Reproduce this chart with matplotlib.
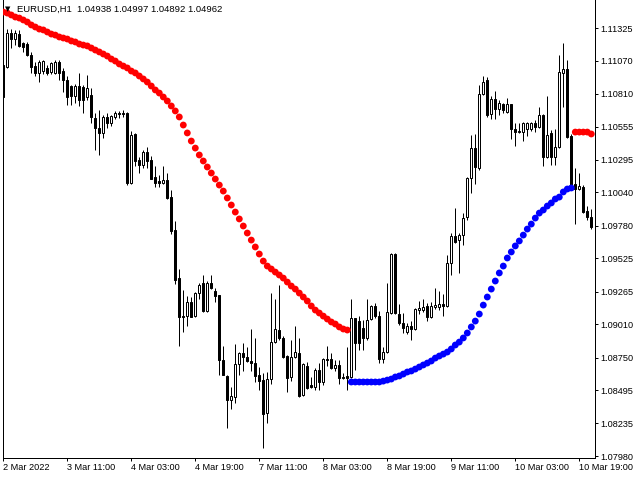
import matplotlib
matplotlib.use("Agg")
import matplotlib.pyplot as plt
import numpy as np
import pandas as pd

plt.rcParams["font.family"] = ["Liberation Sans", "DejaVu Sans"]

# ---------------- data ----------------
symbol = "EURUSD,H1"
header_prices = ["1.04938", "1.04997", "1.04892", "1.04962"]
first_bar_time = "2022-03-02 19:00"

opens = [1.11036, 1.11020, 1.11286, 1.11239, 1.11278, 1.11208, 1.11200, 1.11114, 1.11028, 1.10974,
         1.10989, 1.11013, 1.10981, 1.10974, 1.11059, 1.10989, 1.10919, 1.10872, 1.10794, 1.10872,
         1.10864, 1.10786, 1.10802, 1.10622, 1.10544, 1.10505, 1.10630, 1.10583, 1.10630, 1.10661,
         1.10661, 1.10661, 1.10114, 1.10497, 1.10294, 1.10255, 1.10356, 1.10294, 1.10161, 1.10129,
         1.10114, 1.10137, 1.10004, 1.09747, 1.09371, 1.09074, 1.09074, 1.09184, 1.09074, 1.09254,
         1.09332, 1.09114, 1.09332, 1.09270, 1.09239, 1.08731, 1.08606, 1.08418, 1.08441, 1.08699,
         1.08785, 1.08754, 1.08723, 1.08707, 1.08613, 1.08574, 1.08316, 1.08582, 1.08871, 1.08965,
         1.08903, 1.08762, 1.08598, 1.08754, 1.08785, 1.08457, 1.08684, 1.08535, 1.08520, 1.08652,
         1.08559, 1.08738, 1.08738, 1.08668, 1.08692, 1.08598, 1.08606, 1.08598, 1.09059, 1.09035,
         1.08981, 1.08903, 1.09051, 1.09153, 1.09074, 1.08738, 1.08793, 1.09098, 1.09559, 1.09090,
         1.09020, 1.08949, 1.08996, 1.08973, 1.09121, 1.09121, 1.09153, 1.09067, 1.09145, 1.09145,
         1.09168, 1.09153, 1.09489, 1.09700, 1.09668, 1.09707, 1.09848, 1.10153, 1.10387, 1.10231,
         1.10809, 1.10919, 1.10653, 1.10770, 1.10692, 1.10731, 1.10669, 1.10731, 1.10536, 1.10512,
         1.10512, 1.10536, 1.10536, 1.10583, 1.10551, 1.10645, 1.10317, 1.10505, 1.10317, 1.10395,
         1.10974, 1.11005, 1.10481, 1.10106, 1.10067, 1.10083, 1.09895, 1.09848]
highs = [1.11059, 1.11317, 1.11317, 1.11310, 1.11310, 1.11216, 1.11216, 1.11138, 1.11059, 1.11075,
         1.11075, 1.11036, 1.11059, 1.11075, 1.11075, 1.11013, 1.10950, 1.10880, 1.10888, 1.10974,
         1.10880, 1.10958, 1.10856, 1.10661, 1.10684, 1.10645, 1.10661, 1.10645, 1.10677, 1.10677,
         1.10684, 1.10669, 1.10520, 1.10505, 1.10317, 1.10372, 1.10395, 1.10325, 1.10247, 1.10176,
         1.10247, 1.10192, 1.10059, 1.09817, 1.09442, 1.09278, 1.09231, 1.09223, 1.09262, 1.09332,
         1.09395, 1.09348, 1.09395, 1.09293, 1.09239, 1.08840, 1.08613, 1.08520, 1.08856, 1.08793,
         1.08864, 1.08832, 1.08973, 1.08903, 1.08676, 1.08629, 1.08637, 1.09254, 1.09207, 1.09317,
         1.08918, 1.08770, 1.08887, 1.08996, 1.08903, 1.08707, 1.08715, 1.08598, 1.08668, 1.08707,
         1.08746, 1.08840, 1.08785, 1.08731, 1.08731, 1.08629, 1.08832, 1.09207, 1.09059, 1.09074,
         1.09043, 1.09207, 1.09160, 1.09176, 1.09114, 1.08832, 1.09332, 1.09567, 1.09567, 1.09168,
         1.09098, 1.09020, 1.09035, 1.09137, 1.09192, 1.09207, 1.09176, 1.09184, 1.09293, 1.09270,
         1.09246, 1.09551, 1.09723, 1.09918, 1.09723, 1.09879, 1.10161, 1.10489, 1.10497, 1.10880,
         1.10950, 1.10942, 1.10794, 1.10833, 1.10762, 1.10739, 1.10778, 1.10731, 1.10583, 1.10583,
         1.10591, 1.10591, 1.10591, 1.10606, 1.10708, 1.10653, 1.10794, 1.10528, 1.10536, 1.11114,
         1.11208, 1.11075, 1.10497, 1.10231, 1.10192, 1.10098, 1.09934, 1.09911]
lows = [1.10786, 1.11013, 1.11169, 1.11192, 1.11177, 1.11138, 1.11106, 1.10974, 1.10950, 1.10903,
        1.10966, 1.10958, 1.10966, 1.10966, 1.10919, 1.10825, 1.10723, 1.10723, 1.10739, 1.10716,
        1.10661, 1.10762, 1.10583, 1.10372, 1.10333, 1.10466, 1.10544, 1.10559, 1.10614, 1.10622,
        1.10630, 1.10098, 1.10106, 1.10247, 1.10192, 1.10231, 1.10231, 1.10145, 1.10083, 1.10083,
        1.10106, 1.09989, 1.09715, 1.09325, 1.08840, 1.08949, 1.08996, 1.09067, 1.09067, 1.09207,
        1.09106, 1.09106, 1.09285, 1.09184, 1.08613, 1.08613, 1.08199, 1.08348, 1.08395, 1.08613,
        1.08645, 1.08715, 1.08645, 1.08559, 1.08496, 1.08043, 1.08238, 1.08543, 1.08864, 1.08887,
        1.08746, 1.08481, 1.08566, 1.08746, 1.08441, 1.08449, 1.08504, 1.08512, 1.08496, 1.08496,
        1.08535, 1.08684, 1.08660, 1.08645, 1.08543, 1.08582, 1.08496, 1.08590, 1.08652, 1.08809,
        1.08809, 1.08887, 1.09043, 1.09059, 1.08707, 1.08707, 1.08785, 1.09090, 1.09090, 1.09004,
        1.08942, 1.08934, 1.08887, 1.08965, 1.09090, 1.09106, 1.09035, 1.09059, 1.09129, 1.09121,
        1.09074, 1.09145, 1.09395, 1.09645, 1.09411, 1.09629, 1.09825, 1.10036, 1.10106, 1.10215,
        1.10802, 1.10630, 1.10614, 1.10614, 1.10645, 1.10661, 1.10661, 1.10458, 1.10403, 1.10505,
        1.10442, 1.10481, 1.10520, 1.10512, 1.10544, 1.10247, 1.10309, 1.10255, 1.10255, 1.10387,
        1.10708, 1.10466, 1.10059, 1.09793, 1.10059, 1.09879, 1.09825, 1.09754]
closes = [1.10786, 1.11286, 1.11239, 1.11286, 1.11185, 1.11177, 1.11114, 1.11020, 1.10974, 1.11059,
          1.11067, 1.10974, 1.11052, 1.11059, 1.10974, 1.10919, 1.10786, 1.10794, 1.10872, 1.10762,
          1.10762, 1.10856, 1.10630, 1.10544, 1.10505, 1.10630, 1.10583, 1.10637, 1.10661, 1.10653,
          1.10657, 1.10114, 1.10489, 1.10286, 1.10255, 1.10356, 1.10286, 1.10145, 1.10114, 1.10114,
          1.10137, 1.09997, 1.09739, 1.09356, 1.09067, 1.09070, 1.09184, 1.09067, 1.09254, 1.09317,
          1.09114, 1.09332, 1.09293, 1.09231, 1.08731, 1.08613, 1.08418, 1.08449, 1.08699, 1.08785,
          1.08754, 1.08723, 1.08707, 1.08606, 1.08566, 1.08309, 1.08582, 1.08871, 1.08973, 1.08903,
          1.08754, 1.08590, 1.08754, 1.08793, 1.08449, 1.08699, 1.08512, 1.08520, 1.08652, 1.08559,
          1.08738, 1.08734, 1.08668, 1.08692, 1.08590, 1.08590, 1.08590, 1.09059, 1.08864, 1.08864,
          1.08903, 1.09043, 1.09153, 1.09074, 1.08738, 1.08793, 1.09106, 1.09559, 1.09098, 1.09020,
          1.08981, 1.08996, 1.08973, 1.09129, 1.09137, 1.09145, 1.09067, 1.09153, 1.09160, 1.09168,
          1.09153, 1.09489, 1.09700, 1.09653, 1.09707, 1.09840, 1.10153, 1.10387, 1.10239, 1.10809,
          1.10903, 1.10645, 1.10770, 1.10692, 1.10739, 1.10684, 1.10731, 1.10536, 1.10512, 1.10520,
          1.10583, 1.10583, 1.10583, 1.10551, 1.10645, 1.10317, 1.10489, 1.10317, 1.10395, 1.10981,
          1.11005, 1.10473, 1.10083, 1.10067, 1.10090, 1.09887, 1.09848, 1.09770]

signal = [1.11450, 1.11442, 1.11427, 1.11411, 1.11403, 1.11388, 1.11372, 1.11349, 1.11333, 1.11317,
          1.11310, 1.11294, 1.11278, 1.11270, 1.11255, 1.11247, 1.11239, 1.11224, 1.11216, 1.11200,
          1.11192, 1.11185, 1.11169, 1.11153, 1.11138, 1.11122, 1.11106, 1.11083, 1.11067, 1.11044,
          1.11028, 1.11013, 1.10989, 1.10974, 1.10950, 1.10927, 1.10903, 1.10872, 1.10841, 1.10817,
          1.10786, 1.10755, 1.10716, 1.10677, 1.10630, 1.10567, 1.10505, 1.10442, 1.10387, 1.10333,
          1.10286, 1.10239, 1.10192, 1.10145, 1.10098, 1.10051, 1.09997, 1.09942, 1.09887, 1.09833,
          1.09778, 1.09723, 1.09668, 1.09614, 1.09559, 1.09504, 1.09465, 1.09442, 1.09418, 1.09395,
          1.09371, 1.09340, 1.09309, 1.09285, 1.09254, 1.09223, 1.09192, 1.09153, 1.09121, 1.09098,
          1.09074, 1.09051, 1.09028, 1.09012, 1.08989, 1.08973, 1.08965,
          1.08559, 1.08559, 1.08559, 1.08559, 1.08559, 1.08559, 1.08559, 1.08559, 1.08566, 1.08574,
          1.08582, 1.08598, 1.08606, 1.08621, 1.08637, 1.08645, 1.08660, 1.08676, 1.08692, 1.08707,
          1.08723, 1.08746, 1.08762, 1.08777, 1.08793, 1.08817, 1.08848, 1.08871, 1.08903, 1.08942,
          1.08989, 1.09035, 1.09090, 1.09160, 1.09223, 1.09285, 1.09348, 1.09411, 1.09465, 1.09528,
          1.09575, 1.09622, 1.09661, 1.09707, 1.09754, 1.09793, 1.09840, 1.09879, 1.09903, 1.09934,
          1.09958, 1.09989, 1.10004, 1.10044, 1.10067, 1.10075,
          1.10512, 1.10512, 1.10512, 1.10512, 1.10497]
signal_trend = ["down"] * 87 + ["up"] * 56 + ["down"] * 5

price_ticks = [1.11325, 1.11070, 1.10810, 1.10555, 1.10295, 1.10040, 1.09780,
               1.09525, 1.09265, 1.09010, 1.08750, 1.08495, 1.08235, 1.07980]
price_top, price_bottom = 1.11544, 1.07965
label_every = 16

# ---------------- figure ----------------
W, H = 640, 480
fig = plt.figure(figsize=(W / 100, H / 100), dpi=100)
fig.patch.set_facecolor("white")
L, R, T, B = 3, 595, 0, 458
ax = fig.add_axes([L / W, 1 - B / H, (R - L) / W, (B - T) / H])

n = len(opens)
x = np.arange(n)
o = np.array(opens); h = np.array(highs); l = np.array(lows); c = np.array(closes)

# bar times (forex hours, weekends skipped)
rng = pd.date_range(first_bar_time, periods=n * 2, freq="h")
times = rng[rng.dayofweek < 5][:n]

px = 0.72  # one pixel in points
ax.vlines(x, l, h, color="black", linewidth=px, zorder=1)
bull = c >= o
body_bottom = np.minimum(o, c)
body_h = np.abs(c - o)
ax.bar(x[bull], body_h[bull], bottom=body_bottom[bull], width=0.5,
       color="white", edgecolor="black", linewidth=px, zorder=2)
ax.bar(x[~bull], body_h[~bull], bottom=body_bottom[~bull], width=0.5,
       color="black", edgecolor="black", linewidth=px, zorder=2)

cols = ["#FF0000" if t == "down" else "#0000FF" for t in signal_trend]
ax.scatter(x, signal, s=24, c=cols, linewidths=0, zorder=3)

ax.set_xlim(-0.075, n - 0.075)
ax.set_ylim(price_bottom, price_top)

# axes styling
for sp in ax.spines.values():
    sp.set_linewidth(px)
    sp.set_color("black")
ax.spines["top"].set_visible(False)

ax.yaxis.tick_right()
ax.set_yticks(price_ticks)
ax.set_yticklabels([f"{p:.5f}" for p in price_ticks])
ax.tick_params(axis="y", direction="out", length=2.2, width=px, pad=2.0,
               labelsize=6.6, colors="black")

tick_idx = list(range(0, n, label_every))
tick_lbl = []
for k, i in enumerate(tick_idx):
    t = times[i]
    if k == 0:
        tick_lbl.append(f"{t.day} {t.strftime('%b %Y')}")
    else:
        tick_lbl.append(f"{t.day} {t.strftime('%b %H:%M')}")
ax.set_xticks(tick_idx)
ax.set_xticklabels(tick_lbl)
ax.tick_params(axis="x", direction="out", length=2.2, width=px, pad=1.5,
               labelsize=6.6, colors="black")
for lab in ax.get_xticklabels():
    lab.set_horizontalalignment("left")

# header
fig.text(5 / W, 1 - 9 / H, "\u25BC", fontsize=5, va="center", ha="left",
         color="black", family="DejaVu Sans")
fig.text(17 / W, 1 - 9 / H, symbol + "  " + " ".join(header_prices),
         fontsize=6.8, va="center", ha="left", color="black")

fig.savefig("out.png", dpi=100, facecolor="white")
